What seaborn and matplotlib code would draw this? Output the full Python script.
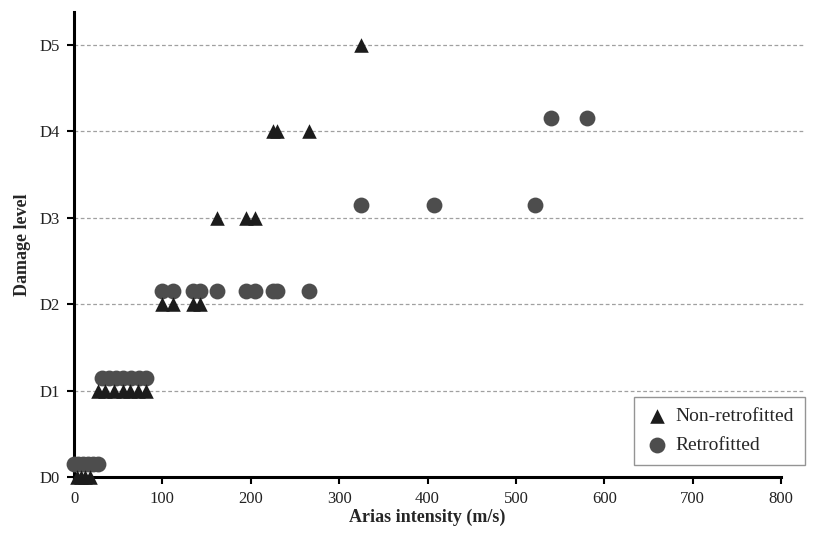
import numpy as np
import pandas as pd
import matplotlib
matplotlib.use("Agg")
import matplotlib.pyplot as plt
import seaborn as sns

# ---- data ----
nonretro_x = [3, 8, 13, 18,
              27, 35, 45, 55, 63, 72, 82,
              100, 112, 135, 143,
              162, 195, 205,
              225, 230, 266,
              325]
nonretro_level = [0, 0, 0, 0,
                  1, 1, 1, 1, 1, 1, 1,
                  2, 2, 2, 2,
                  3, 3, 3,
                  4, 4, 4,
                  5]

retro_x = [0, 5, 10, 16, 21, 27,
           32, 40, 48, 56, 65, 73, 81,
           100, 112, 135, 143, 162, 195, 205, 225, 230, 266,
           325, 407, 522,
           540, 581]
retro_level = [0, 0, 0, 0, 0, 0,
               1, 1, 1, 1, 1, 1, 1,
               2, 2, 2, 2, 2, 2, 2, 2, 2, 2,
               3, 3, 3,
               4, 4]

level_labels = ["D0", "D1", "D2", "D3", "D4", "D5"]
x_ticks = [0, 100, 200, 300, 400, 500, 600, 700, 800]
series_names = ["Non-retrofitted", "Retrofitted"]

# display offset so retrofitted circles sit just above the level line
retro_offset = 0.15

df = pd.concat([
    pd.DataFrame({"x": nonretro_x, "y": np.array(nonretro_level, float),
                  "group": series_names[0]}),
    pd.DataFrame({"x": retro_x, "y": np.array(retro_level, float) + retro_offset,
                  "group": series_names[1]}),
], ignore_index=True)

sns.set_theme(style="white")
plt.rcParams["font.family"] = ["Liberation Serif", "DejaVu Serif"]

fig = plt.figure(figsize=(8.22, 5.39), dpi=100)
ax = fig.add_axes([74 / 822, 1 - 477 / 539, (781 - 74) / 822, (477 - 12) / 539])

# dashed grid lines at damage levels (extend a little past the last tick, as in the reference)
grid_end = (805 - 74) / (781 - 74)
for lv in range(1, 6):
    ax.axhline(lv, xmin=0, xmax=grid_end, color="#a0a0a0", linestyle=(0, (3, 2)),
               linewidth=0.9, zorder=0, clip_on=False)

sns.scatterplot(data=df[df.group == series_names[1]], x="x", y="y",
                marker="o", s=130, color="#4d4d4d", linewidth=0, ax=ax,
                label=series_names[1], zorder=3, clip_on=False)
sns.scatterplot(data=df[df.group == series_names[0]], x="x", y="y",
                marker="^", s=110, color="#1c1c1c", linewidth=0, ax=ax,
                label=series_names[0], zorder=4, clip_on=False)

ax.set_xlim(0, 800)
ax.set_ylim(0, 5.38)
ax.set_xticks(x_ticks)
ax.set_xticklabels([str(t) for t in x_ticks], fontsize=12)
ax.set_yticks(range(len(level_labels)))
ax.set_yticklabels(level_labels, fontsize=12)

for side in ["top", "right"]:
    ax.spines[side].set_visible(False)
for side in ["left", "bottom"]:
    ax.spines[side].set_color("black")
    ax.spines[side].set_linewidth(2.2)

ax.tick_params(axis="both", which="major", direction="out", length=5, width=1.5,
               color="black", labelcolor="#222222", left=True, bottom=True, pad=5)

ax.set_xlabel("Arias intensity (m/s)", fontsize=13, fontweight="bold", labelpad=1)
ax.set_ylabel("Damage level", fontsize=13, fontweight="bold", labelpad=6)

handles, labels = ax.get_legend_handles_labels()
order = [labels.index(series_names[0]), labels.index(series_names[1])]
leg = ax.legend([handles[i] for i in order], [labels[i] for i in order],
                loc="lower right", bbox_to_anchor=(805 / 822, 1 - 465 / 539),
                bbox_transform=fig.transFigure, fontsize=14, frameon=True,
                fancybox=False, edgecolor="#7a7a7a", handletextpad=0.3,
                handlelength=1.3, labelspacing=0.6, borderpad=0.55,
                borderaxespad=0)
leg.get_frame().set_linewidth(1.0)

fig.savefig("out.png", dpi=100)
